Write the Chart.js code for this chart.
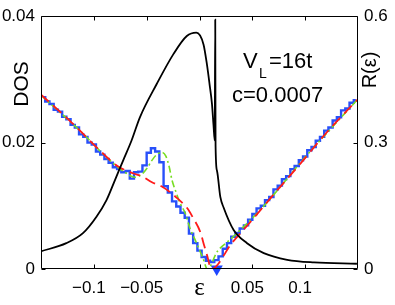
<!DOCTYPE html>
<html><head><meta charset="utf-8">
<script src="https://cdn.jsdelivr.net/npm/chart.js@4.4.1/dist/chart.umd.min.js"></script>
<style>html,body{margin:0;padding:0;background:#fff}</style>
</head><body>
<canvas id="c" width="395" height="305"></canvas>
<script>
const xTicks = [-0.1, -0.05, 0, 0.05, 0.1];
const dosTicks = [0, 0.02, 0.04];
const rTicks = [0, 0.3, 0.6];

// blue stepped DOS (bin centres)
const dosEps = [-0.148,-0.144,-0.140,-0.136,-0.132,-0.128,-0.124,-0.120,-0.116,-0.112,
 -0.108,-0.104,-0.100,-0.096,-0.092,-0.088,-0.084,-0.080,-0.076,-0.072,
 -0.068,-0.064,-0.060,-0.056,-0.052,-0.048,-0.044,-0.040,-0.036,-0.032,
 -0.028,-0.024,-0.020,-0.016,-0.012,-0.008,-0.004,0.000,0.004,0.008,
 0.012,0.016,0.020,0.024,0.028,0.032,0.036,0.040,0.044,0.048,
 0.052,0.056,0.060,0.064,0.068,0.072,0.076,0.080,0.084,0.088,
 0.092,0.096,0.100,0.104,0.108,0.112,0.116,0.120,0.124,0.128,
 0.132,0.136,0.140,0.144,0.148];
const dosVal = [0.0272,0.0265,0.0261,0.0252,0.0249,0.0241,0.0237,0.0228,0.0224,0.0213,
 0.0209,0.0200,0.0197,0.0186,0.0181,0.0174,0.0168,0.0161,0.0158,0.0153,
 0.0155,0.0143,0.0153,0.0154,0.0164,0.0184,0.0191,0.0186,0.0169,0.0131,
 0.0121,0.0107,0.0099,0.0089,0.0081,0.0056,0.0041,0.0029,0.0019,0.0013,
 0.0011,0.0014,0.0020,0.0032,0.0041,0.0051,0.0057,0.0064,0.0069,0.0078,
 0.0087,0.0096,0.0100,0.0109,0.0114,0.0126,0.0132,0.0142,0.0147,0.0158,
 0.0163,0.0172,0.0178,0.0188,0.0193,0.0203,0.0209,0.0219,0.0224,0.0235,
 0.0240,0.0251,0.0254,0.0263,0.0267];

// red dashed
const redEps = [-0.1505,-0.1229,-0.0944,-0.0773,-0.0630,-0.0545,-0.0450,-0.0345,-0.0279,-0.0212,-0.0117,-0.0060,0.0007,0.0045,0.0073,0.0111,0.0308,0.0482,0.0720,0.0957,0.1195,0.1499];
const redVal = [0.02765,0.02349,0.01877,0.01625,0.01515,0.01468,0.01373,0.01294,0.01216,0.01122,0.00964,0.00807,0.00587,0.00367,0.00209,0.0000,0.00414,0.00744,0.01216,0.01672,0.02144,0.02687];

// green dash-dot
const grnEps = [-0.1505,-0.1134,-0.0849,-0.0706,-0.0611,-0.0545,-0.0497,-0.0450,-0.0402,-0.0355,-0.0317,-0.0288,-0.0260,-0.0222,-0.0184,-0.0136,-0.0088,-0.0041,0.0007,0.0035,0.0064,0.0075,0.017,0.030,0.060,0.100,0.150];
const grnVal = [0.02757,0.02193,0.01719,0.01530,0.01452,0.01499,0.01593,0.01719,0.01814,0.01845,0.01782,0.01625,0.01405,0.01216,0.01043,0.00886,0.00634,0.00461,0.00272,0.00162,0.00020,0.0,0.0028,0.0048,0.0098,0.0177,0.0269];

// black R(eps)
const rEps = [-0.1505,-0.126,-0.1103,-0.0975,-0.088,-0.080,-0.0722,-0.0643,-0.0564,-0.0405,-0.0247,-0.012,-0.003,0.0038,0.007,0.0095,0.0118,0.0133,0.0144,0.0149,0.0152,0.0165,0.0197,0.0228,0.0323,0.045,0.0608,0.083,0.1084,0.149];
const rVal = [0.0415,0.0613,0.085,0.124,0.1635,0.211,0.258,0.305,0.360,0.439,0.510,0.553,0.561,0.533,0.486,0.439,0.392,0.340,0.305,0.592,0.293,0.234,0.171,0.146,0.0927,0.0613,0.0377,0.0219,0.0156,0.0125];

const markEps = [0.0163];
const markVal = [0];

const pts = (xs, ys) => xs.map((v, i) => ({x: v, y: ys[i]}));
const FONT = "'Liberation Sans', Arial, Helvetica, sans-serif";

const framePlugin = {
  id: 'frame',
  afterDatasetsDraw(chart) {
    const {ctx, chartArea: a, scales} = chart;
    const L = Math.round(a.left) + 0.5, R = Math.round(a.right) - 0.5;
    const T = Math.round(a.top) + 0.5, B = Math.round(a.bottom) - 0.5;
    ctx.save();
    ctx.strokeStyle = '#000'; ctx.lineWidth = 1;
    ctx.beginPath();
    ctx.rect(L, T, R - L, B - T);
    const tl = 4;
    xTicks.forEach(v => {
      const p = Math.round(scales.x.getPixelForValue(v)) + 0.5;
      ctx.moveTo(p, B); ctx.lineTo(p, B - tl);
      ctx.moveTo(p, T); ctx.lineTo(p, T + tl);
    });
    dosTicks.forEach(v => {
      const p = Math.round(scales.y.getPixelForValue(v)) + 0.5;
      ctx.moveTo(L, p); ctx.lineTo(L + tl, p);
    });
    rTicks.forEach(v => {
      const p = Math.round(scales.y2.getPixelForValue(v)) + 0.5;
      ctx.moveTo(R, p); ctx.lineTo(R - tl, p);
    });
    ctx.stroke();
    ctx.restore();
  },
  afterDraw(chart) {
    const {ctx, scales} = chart;
    ctx.save();
    ctx.fillStyle = '#000';
    ctx.font = '21px ' + FONT;
    ctx.textAlign = 'center'; ctx.textBaseline = 'middle';
    ctx.save(); ctx.translate(22, 84); ctx.rotate(-Math.PI / 2); ctx.fillText('DOS', 0, 0); ctx.restore();
    ctx.font = '20px ' + FONT;
    ctx.save(); ctx.translate(370, 70); ctx.rotate(-Math.PI / 2); ctx.fillText('R(ε)', 0, 0); ctx.restore();
    ctx.font = '25px "Liberation Serif", "DejaVu Serif", serif';
    ctx.textBaseline = 'alphabetic';
    ctx.fillText('ε', scales.x.getPixelForValue(0), 295);
    ctx.textAlign = 'left';
    ctx.font = '22px ' + FONT;
    ctx.fillText('V', 243, 68);
    ctx.font = '14px ' + FONT;
    ctx.fillText('L', 259, 78);
    ctx.font = '22px ' + FONT;
    ctx.fillText('=16t', 269, 68);
    ctx.fillText('c=0.0007', 232, 102);
    ctx.restore();
  }
};

new Chart(document.getElementById('c'), {
  type: 'line',
  data: {
    datasets: [
      {data: pts(rEps, rVal), yAxisID: 'y2', borderColor: '#000', borderWidth: 1.8, pointRadius: 0, cubicInterpolationMode: 'monotone'},
      {data: pts(redEps, redVal), yAxisID: 'y', borderColor: '#ff1a1a', borderWidth: 1.8, borderDash: [11, 6], pointRadius: 0, cubicInterpolationMode: 'monotone'},
      {data: pts(grnEps, grnVal), yAxisID: 'y', borderColor: '#77dd22', borderWidth: 1.6, borderDash: [7, 3, 2, 3], pointRadius: 0, cubicInterpolationMode: 'monotone'},
      {data: pts(dosEps, dosVal), yAxisID: 'y', borderColor: 'rgb(40,80,250)', borderWidth: 2.4, pointRadius: 0, stepped: 'middle'},
      {data: pts(markEps, markVal), yAxisID: 'y', showLine: false, pointStyle: 'triangle', rotation: 180, pointRadius: 7, backgroundColor: 'rgb(30,70,255)', borderWidth: 0, clip: false}
    ]
  },
  options: {
    responsive: false, animation: false, devicePixelRatio: 1,
    layout: {padding: {top: 15, left: 0, right: 0, bottom: 0}},
    plugins: {legend: {display: false}, tooltip: {enabled: false}},
    scales: {
      x: {type: 'linear', min: -0.15, max: 0.15,
        afterBuildTicks: s => { s.ticks = xTicks.map(v => ({value: v})); },
        afterFit: s => { s.height = 36; },
        grid: {display: false, drawTicks: false}, border: {display: false},
        ticks: {padding: 9, labelOffset: -5, color: '#000', font: {family: FONT, size: 17}, maxRotation: 0,
          callback: v => v === 0 ? '' : String(v).replace('-', '\u2212')}},
      y: {min: 0, max: 0.04, position: 'left',
        afterBuildTicks: s => { s.ticks = dosTicks.map(v => ({value: v})); },
        afterFit: s => { s.width = 41; },
        grid: {display: false, drawTicks: false}, border: {display: false},
        ticks: {padding: 6, color: '#000', font: {family: FONT, size: 17}, callback: v => String(v)}},
      y2: {min: 0, max: 0.6, position: 'right',
        afterBuildTicks: s => { s.ticks = rTicks.map(v => ({value: v})); },
        afterFit: s => { s.width = 37; },
        grid: {display: false, drawTicks: false}, border: {display: false},
        ticks: {padding: 6, color: '#000', font: {family: FONT, size: 17}, callback: v => String(v)}}
    }
  },
  plugins: [framePlugin]
});
</script>
</body></html>
